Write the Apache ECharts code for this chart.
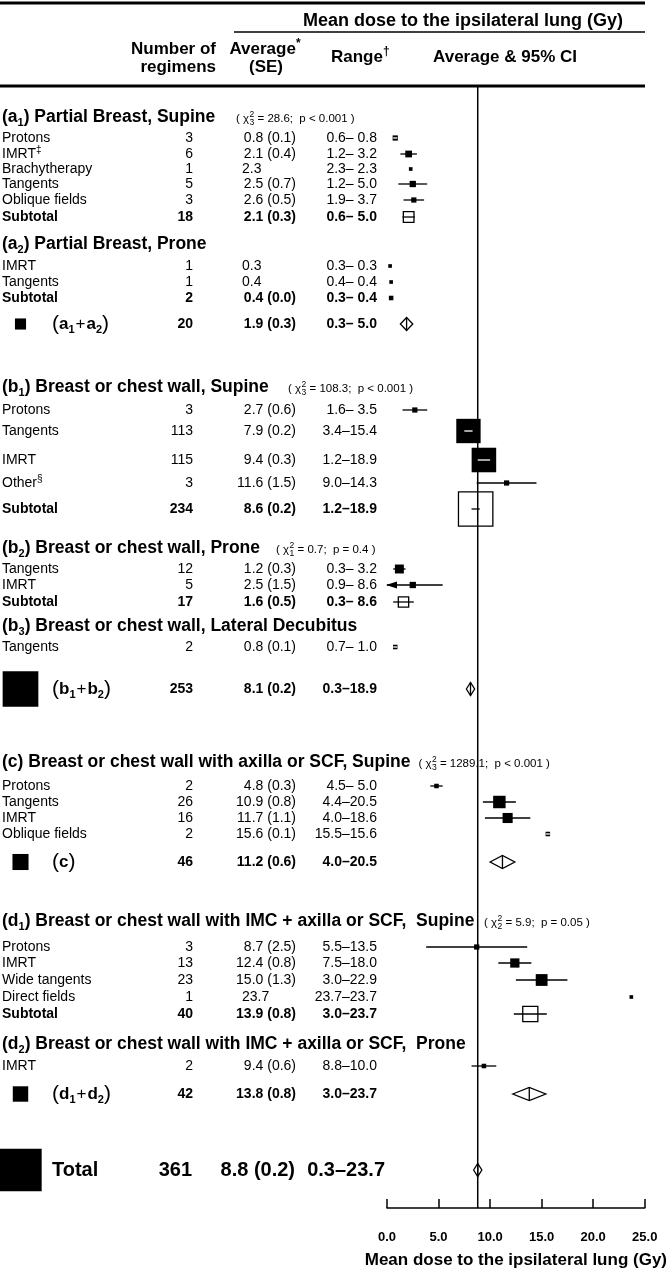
<!DOCTYPE html>
<html><head><meta charset="utf-8">
<script src="https://cdn.jsdelivr.net/npm/echarts@6/dist/echarts.min.js"></script>
<style>html,body{margin:0;padding:0;background:#fff}#chart{width:670px;height:1278px}</style>
</head><body><div id="chart"></div>
<script>
// ================= DATA =================
const rowLabels = [
  '(a_1) Partial Breast, Supine', 'Protons', 'IMRT^‡', 'Brachytherapy', 'Tangents', 'Oblique fields', 'Subtotal',
  '(a_2) Partial Breast, Prone', 'IMRT', 'Tangents', 'Subtotal', '(a_1+a_2)',
  '(b_1) Breast or chest wall, Supine', 'Protons', 'Tangents', 'IMRT', 'Other^§', 'Subtotal',
  '(b_2) Breast or chest wall, Prone', 'Tangents', 'IMRT', 'Subtotal',
  '(b_3) Breast or chest wall, Lateral Decubitus', 'Tangents', '(b_1+b_2)',
  '(c) Breast or chest wall with axilla or SCF, Supine', 'Protons', 'Tangents', 'IMRT', 'Oblique fields', '(c)',
  '(d_1) Breast or chest wall with IMC + axilla or SCF,  Supine', 'Protons', 'IMRT', 'Wide tangents', 'Direct fields', 'Subtotal',
  '(d_2) Breast or chest wall with IMC + axilla or SCF,  Prone', 'IMRT', '(d_1+d_2)', 'Total'
];
// H = section header, I = regimen, S = subtotal, G = group total, T = overall total
const rowKinds = ['H','I','I','I','I','I','S','H','I','I','S','G','H','I','I','I','I','S','H','I','I','S','H','I','G',
  'H','I','I','I','I','G','H','I','I','I','I','S','H','I','G','T'];
const nRegimens = [null,3,6,1,5,3,18,null,1,1,2,20,null,3,113,115,3,234,null,12,5,17,null,2,253,
  null,2,26,16,2,46,null,3,13,23,1,40,null,2,42,361];
const avgDose = [null,0.8,2.1,2.3,2.5,2.6,2.1,null,0.3,0.4,0.4,1.9,null,2.7,7.9,9.4,11.6,8.6,null,1.2,2.5,1.6,null,0.8,8.1,
  null,4.8,10.9,11.7,15.6,11.2,null,8.7,12.4,15.0,23.7,13.9,null,9.4,13.8,8.8];
const seDose = [null,0.1,0.4,null,0.7,0.5,0.3,null,null,null,0.0,0.3,null,0.6,0.2,0.3,1.5,0.2,null,0.3,1.5,0.5,null,0.1,0.2,
  null,0.3,0.8,1.1,0.1,0.6,null,2.5,0.8,1.3,null,0.8,null,0.6,0.8,0.2];
const rangeLo = [null,0.6,1.2,2.3,1.2,1.9,0.6,null,0.3,0.4,0.3,0.3,null,1.6,3.4,1.2,9.0,1.2,null,0.3,0.9,0.3,null,0.7,0.3,
  null,4.5,4.4,4.0,15.5,4.0,null,5.5,7.5,3.0,23.7,3.0,null,8.8,3.0,0.3];
const rangeHi = [null,0.8,3.2,2.3,5.0,3.7,5.0,null,0.3,0.4,0.4,5.0,null,3.5,15.4,18.9,14.3,18.9,null,3.2,8.6,8.6,null,1.0,18.9,
  null,5.0,20.5,18.6,15.6,20.5,null,13.5,18.0,22.9,23.7,23.7,null,10.0,23.7,23.7];
const ciLo = [null,0.6,1.3,null,1.1,1.6,1.5,null,null,null,0.4,1.3,null,1.5,7.5,8.8,8.7,8.2,null,0.6,-0.4,0.6,null,0.6,7.7,
  null,4.2,9.3,9.5,15.4,10.0,null,3.8,10.8,12.5,null,12.3,null,8.2,12.2,8.4];
const ciHi = [null,1.0,2.9,null,3.9,3.6,2.7,null,null,null,0.4,2.5,null,3.9,8.3,10.0,14.5,9.0,null,1.8,5.4,2.6,null,1.0,8.5,
  null,5.4,12.5,13.9,15.8,12.4,null,13.6,14.0,17.5,null,15.5,null,10.6,15.4,9.2];
const chiDf    = {0:'3', 12:'3', 18:'1', 25:'3', 31:'2'};
const chiValue = {0:'28.6', 12:'108.3', 18:'0.7', 25:'1289.1', 31:'5.9'};
const chiP     = {0:'p < 0.001', 12:'p < 0.001', 18:'p = 0.4', 25:'p < 0.001', 31:'p = 0.05'};
const xTicks = [0, 5, 10, 15, 20, 25];
const axisTitle = 'Mean dose to the ipsilateral lung (Gy)';

// ================= LAYOUT =================
const rowPos = [117,138,154,169,184,200,217,244,266,282,298,324,387,410,431,460,483,509,548,569,585,602,626,647,689,
  762,786,802,818,834,862,921,947,963,980,997,1014,1044,1066,1094,1170];
const chiX = {0:236, 12:288, 18:276, 25:418, 31:484};
const Y_MIN = 86, Y_MAX = 1208;
const FAM = '"Liberation Sans", Arial, Helvetica, sans-serif';
const font = (w, s) => `${w} ${s}px ${FAM}`;
const COL = {label: 2, groupLabel: 52, groupSq: 20.5, n: 193, avgR: 296, avgL: 242, range: 377,
  totN: 192, totAvg: 295, totRange: 385};
const HFS = 17.5;

const mctx = document.createElement('canvas').getContext('2d');
function tw(text, f) { mctx.font = f; return mctx.measureText(text).width; }

function tok(w, s, lh, va, extra) {
  return Object.assign({fontFamily: FAM, fontWeight: w, fontSize: s, lineHeight: lh, verticalAlign: va, fill: '#000', color: '#000'}, extra || {});
}
const RICH = {
  hn: tok('bold', HFS, 22, 'middle'), hsub: tok('bold', 11, 11, 'bottom'), hsup: tok('bold', 10, 10, 'top'),
  rn: tok('normal', 14, 18, 'middle'), rsub: tok('normal', 9, 9, 'bottom'), rsup: tok('normal', 10, 8, 'top'),
  gl: tok('bold', 17, 22, 'middle'), gp: tok('normal', 21, 22, 'middle'), gplus: tok('normal', 17, 22, 'middle', {padding: [0, 1]}),
  gsub: tok('bold', 11, 11, 'bottom')
};
function segs(label) {
  const out = []; let buf = '';
  for (let k = 0; k < label.length; k++) {
    const c = label[k];
    if ((c === '_' || c === '^') && k + 1 < label.length) {
      if (buf) out.push({t: buf, k: 'n'}); buf = '';
      out.push({t: label[k + 1], k: c === '_' ? 'sub' : 'sup'}); k++;
    } else buf += c;
  }
  if (buf) out.push({t: buf, k: 'n'});
  return out;
}
function richStr(label, st) { return segs(label).map(s => `{${st[s.k]}|${s.t}}`).join(''); }
function groupStr(label) {
  let out = '';
  segs(label).forEach(s => {
    if (s.k !== 'n') { out += `{gsub|${s.t}}`; return; }
    s.t.split(/([()+])/).forEach(p => {
      if (!p) return;
      if (p === '(' || p === ')') out += `{gp|${p}}`;
      else if (p === '+') out += `{gplus|+}`;
      else out += `{gl|${p}}`;
    });
  });
  return out;
}
function headerWidth(label) {
  return segs(label).reduce((a, s) => a + tw(s.t, s.k === 'n' ? font('bold', HFS) : font('bold', 11)), 0);
}
function T(x, y, text, align, f, rich) {
  const st = {x, y, text, align, textAlign: align, verticalAlign: 'middle', textVerticalAlign: 'middle', fill: '#000'};
  if (f) st.font = f;
  if (rich) st.rich = rich;
  return {type: 'text', silent: true, style: st};
}
const fmt1 = v => v.toFixed(1);
const avgText = i => seDose[i] != null ? `${fmt1(avgDose[i])} (${fmt1(seDose[i])})` : fmt1(avgDose[i]);
const rangeText = i => `${fmt1(rangeLo[i])}–${rangeHi[i] < 10 ? ' ' : ''}${fmt1(rangeHi[i])}`;
const markSize = n => 1.5 + 2.15 * Math.sqrt(n);
const LW = 1.3;

function renderItem(params, api) {
  const i = api.value(2);
  const kind = rowKinds[i];
  const y = api.coord([0, rowPos[i]])[1];
  const X = v => api.coord([v, rowPos[i]])[0];
  const ch = [];
  const line = (x1, y1, x2, y2, color, w) => ch.push({type: 'line', silent: true,
    shape: {x1, y1, x2, y2}, style: {stroke: color || '#000', lineWidth: w || LW}});

  if (kind === 'H') {
    ch.push(T(COL.label, y, richStr(rowLabels[i], {n: 'hn', sub: 'hsub', sup: 'hsup'}), 'left', font('bold', HFS), RICH));
    if (chiValue[i] != null) {
      let cx = Math.max(chiX[i], COL.label + headerWidth(rowLabels[i]) + 8);
      const f11 = font('normal', 11.5), f8 = font('normal', 8.5);
      const yy = y + 2;
      ch.push(T(cx, yy, '( χ', 'left', f11));
      cx += tw('( χ', f11) + 0.5;
      ch.push(T(cx, yy - 4, '2', 'left', f8));
      ch.push(T(cx, yy + 4, chiDf[i], 'left', f8));
      cx += tw('2', f8);
      ch.push(T(cx, yy, ` = ${chiValue[i]};  ${chiP[i]} )`, 'left', f11));
    }
    return {type: 'group', children: ch};
  }

  // ---- text columns ----
  if (kind === 'I' || kind === 'S') {
    const bold = kind === 'S';
    const f = font(bold ? 'bold' : 'normal', 14);
    if (bold) ch.push(T(COL.label, y, rowLabels[i], 'left', f));
    else ch.push(T(COL.label, y, richStr(rowLabels[i], {n: 'rn', sub: 'rsub', sup: 'rsup'}), 'left', f, RICH));
    ch.push(T(COL.n, y, String(nRegimens[i]), 'right', f));
    if (seDose[i] != null) ch.push(T(COL.avgR, y, avgText(i), 'right', f));
    else ch.push(T(COL.avgL, y, avgText(i), 'left', f));
    ch.push(T(COL.range, y, rangeText(i), 'right', f));
  } else if (kind === 'G') {
    const f = font('bold', 14);
    ch.push(T(COL.groupLabel, y, groupStr(rowLabels[i]), 'left', font('bold', 17), RICH));
    ch.push(T(COL.n, y, String(nRegimens[i]), 'right', f));
    ch.push(T(COL.avgR, y, avgText(i), 'right', f));
    ch.push(T(COL.range, y, rangeText(i), 'right', f));
  } else if (kind === 'T') {
    const f = font('bold', 20);
    ch.push(T(COL.groupLabel, y, rowLabels[i], 'left', f));
    ch.push(T(COL.totN, y, String(nRegimens[i]), 'right', f));
    ch.push(T(COL.totAvg, y, avgText(i), 'right', f));
    ch.push(T(COL.totRange, y, rangeText(i), 'right', f));
  }

  // ---- forest marks ----
  const cx = X(avgDose[i]);
  if (kind === 'I' || kind === 'S') {
    const s = markSize(nRegimens[i]);
    let inside = false;
    if (ciLo[i] != null) {
      const clipped = ciLo[i] < xTicks[0];
      const x1 = X(clipped ? xTicks[0] : ciLo[i]), x2 = X(ciHi[i]);
      inside = x1 >= cx - s / 2 && x2 <= cx + s / 2;
      if (!(inside && kind === 'I')) {
        line(x1, y, x2, y);
        if (clipped) ch.push({type: 'polygon', silent: true,
          shape: {points: [[x1 - 1, y], [x1 + 10, y - 3.5], [x1 + 10, y + 3.5]]}, style: {fill: '#000'}});
      }
    }
    if (kind === 'I' || s < 6) {
      ch.push({type: 'rect', silent: true, shape: {x: cx - s / 2, y: y - s / 2, width: s, height: s}, style: {fill: '#000'}});
      if (inside && kind === 'I') line(X(ciLo[i]), y, X(ciHi[i]), y, '#fff', 1.3);
    } else {
      ch.push({type: 'rect', silent: true, shape: {x: cx - s / 2, y: y - s / 2, width: s, height: s},
        style: {fill: null, stroke: '#000', lineWidth: LW}});
    }
  } else if (kind === 'G' || kind === 'T') {
    const h = 6.5;
    const xl = X(ciLo[i]), xr = X(ciHi[i]);
    ch.push({type: 'polygon', silent: true, shape: {points: [[xl, y], [cx, y - h], [xr, y], [cx, y + h]]},
      style: {fill: null, stroke: '#000', lineWidth: LW}});
    line(cx, y - h, cx, y + h);
    const s = markSize(nRegimens[i]);
    ch.push({type: 'rect', silent: true, shape: {x: COL.groupSq - s / 2, y: y - s / 2, width: s, height: s}, style: {fill: '#000'}});
  }
  return {type: 'group', children: ch};
}

const totalIdx = rowKinds.indexOf('T');
const chart = echarts.init(document.getElementById('chart'), null, {renderer: 'canvas'});
const hdr = (x, y, text, align, f, rich) => {
  const st = {x, y, text, align, textAlign: align, verticalAlign: 'middle', textVerticalAlign: 'middle', fill: '#000', font: f};
  if (rich) st.rich = rich;
  return {type: 'text', silent: true, style: st};
};
const HR = {
  a: tok('bold', 17, 22, 'middle'), s: tok('bold', 12, 10, 'top')
};
chart.setOption({
  animation: false,
  backgroundColor: '#fff',
  grid: {left: 387, right: 25, top: Y_MIN, bottom: 1278 - Y_MAX, containLabel: false},
  xAxis: {
    type: 'value', min: xTicks[0], max: xTicks[xTicks.length - 1], interval: xTicks[1] - xTicks[0],
    axisLine: {show: true, lineStyle: {color: '#000', width: 1.5}},
    axisTick: {show: true, inside: true, length: 9, lineStyle: {color: '#000', width: 1.5}},
    axisLabel: {color: '#000', fontFamily: FAM, fontWeight: 'bold', fontSize: 13, margin: 23, formatter: v => v.toFixed(1)},
    splitLine: {show: false},
    name: axisTitle, nameLocation: 'middle', nameGap: 44,
    nameTextStyle: {color: '#000', fontFamily: FAM, fontWeight: 'bold', fontSize: 17}
  },
  yAxis: {type: 'value', inverse: true, min: Y_MIN, max: Y_MAX, show: false},
  graphic: [
    {type: 'line', silent: true, shape: {x1: 0, y1: 3, x2: 645, y2: 3}, style: {stroke: '#000', lineWidth: 3}},
    hdr(463, 21, 'Mean dose to the ipsilateral lung (Gy)', 'center', font('bold', 18)),
    {type: 'line', silent: true, shape: {x1: 234, y1: 32, x2: 645, y2: 32}, style: {stroke: '#000', lineWidth: 1.5}},
    hdr(216, 49, 'Number of', 'right', font('bold', 17)),
    hdr(216, 67, 'regimens', 'right', font('bold', 17)),
    hdr(265, 49, '{a|Average}{s|*}', 'center', font('bold', 17), HR),
    hdr(266, 67, '(SE)', 'center', font('bold', 17)),
    hdr(331, 57, '{a|Range}{s|†}', 'left', font('bold', 17), HR),
    hdr(505, 57, 'Average & 95% CI', 'center', font('bold', 17)),
    {type: 'line', silent: true, shape: {x1: 0, y1: 86, x2: 645, y2: 86}, style: {stroke: '#000', lineWidth: 3}}
  ],
  series: [
    {
      type: 'line', silent: true, symbol: 'none', z: 1,
      data: [[avgDose[totalIdx], Y_MIN], [avgDose[totalIdx], Y_MAX]],
      lineStyle: {color: '#000', width: 1.5}
    },
    {
      type: 'custom', clip: false, z: 2, silent: true,
      renderItem: renderItem,
      encode: {x: 0, y: 1},
      data: rowLabels.map((_, i) => [avgDose[i] != null ? avgDose[i] : 0, rowPos[i], i])
    }
  ]
});
</script>
</body></html>
